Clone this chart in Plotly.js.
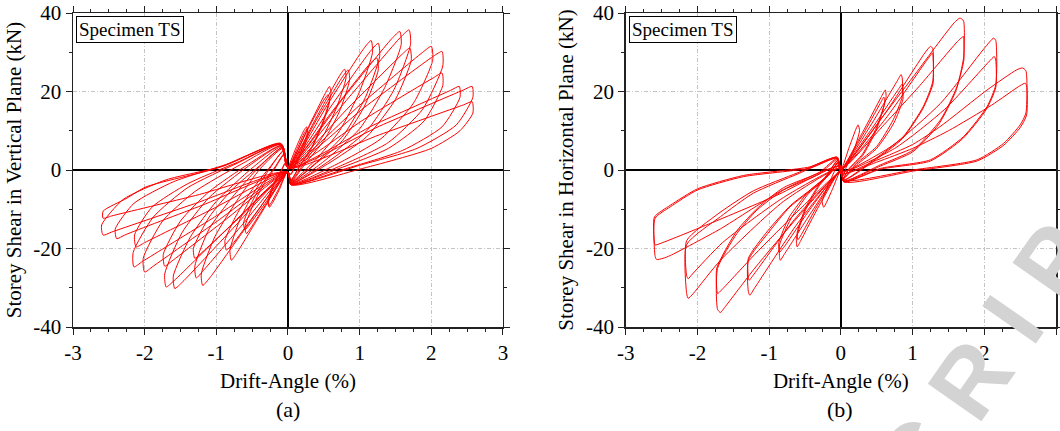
<!DOCTYPE html>
<html>
<head>
<meta charset="utf-8">
<script src="https://cdn.plot.ly/plotly-3.0.1.min.js"></script>
<style>
html,body{margin:0;padding:0;background:#fff;}
#chart{width:1060px;height:431px;}
</style>
</head>
<body>
<div id="chart"></div>
<script>
// ---------- DATA ----------
const xTickVals = [-3, -2, -1, 0, 1, 2, 3];
const xTickText = ["-3", "-2", "-1", "0", "1", "2", "3"];
const yTickVals = [-40, -20, 0, 20, 40];
const yTickText = ["-40", "-20", "0", "20", "40"];

const panelTitles = ["(a)", "(b)"];
const specimenLabel = "Specimen TS";
const xTitle = "Drift-Angle (%)";
const yTitleA = "Storey Shear in Vertical Plane (kN)";
const yTitleB = "Storey Shear in Horizontal Plane (kN)";
const watermark = "M A N U S C R I P T";

// (a) Storey shear in vertical plane — drift angle (%)
const driftA = [
  0,0.12,0.22,0.26,0.27,0.2,0.1,0.04,  -0.01,-0.12,-0.22,-0.26,-0.27,-0.2,-0.1,-0.04,
  0,0.13,0.23,0.27,0.28,0.21,0.1,0.04,  -0.01,-0.13,-0.23,-0.27,-0.28,-0.21,-0.1,-0.04,
  0,0.3,0.52,0.58,0.6,0.5,0.35,0.18,0.04,  0,-0.3,-0.52,-0.58,-0.6,-0.5,-0.35,-0.18,-0.05,
  0,0.28,0.5,0.56,0.58,0.48,0.33,0.17,0.04,  0,-0.3,-0.54,-0.6,-0.62,-0.52,-0.36,-0.18,-0.05,
  0,0.4,0.72,0.79,0.81,0.68,0.5,0.25,0.04,  0,-0.43,-0.78,-0.86,-0.88,-0.72,-0.5,-0.25,-0.06,
  0,0.42,0.77,0.84,0.86,0.72,0.5,0.25,0.04,  0,-0.4,-0.72,-0.79,-0.81,-0.68,-0.5,-0.25,-0.06,
  0,0.58,1.06,1.16,1.18,1.0,0.72,0.38,0.04,  0,-0.6,-1.08,-1.19,-1.21,-1.02,-0.72,-0.38,-0.07,
  0,0.63,1.16,1.26,1.28,1.08,0.78,0.4,0.04,  0,-0.64,-1.18,-1.28,-1.3,-1.1,-0.78,-0.4,-0.07,
  0,0.62,1.14,1.24,1.26,1.06,0.76,0.4,0.04,  0,-0.64,-1.2,-1.3,-1.32,-1.1,-0.78,-0.4,-0.07,
  0,0.78,1.45,1.56,1.58,1.35,1.0,0.5,0.04,  0,-0.8,-1.47,-1.58,-1.6,-1.36,-1.0,-0.5,-0.08,
  0,0.85,1.58,1.69,1.71,1.48,1.1,0.55,0.04,  0,-0.85,-1.59,-1.7,-1.72,-1.48,-1.1,-0.55,-0.08,
  0,0.85,1.6,1.7,1.72,1.5,1.1,0.55,0.04,  0,-0.86,-1.62,-1.72,-1.74,-1.5,-1.1,-0.55,-0.08,
  0,1.0,1.88,2.0,2.02,1.75,1.3,0.65,0.04,  0,-1.0,-1.88,-2.0,-2.02,-1.75,-1.3,-0.65,-0.09,
  0,1.07,2.03,2.15,2.16,1.88,1.4,0.7,0.04,  0,-1.07,-2.03,-2.15,-2.16,-1.88,-1.4,-0.7,-0.09,
  0,1.07,2.03,2.15,2.16,1.9,1.4,0.7,0.04,  0,-1.06,-2.0,-2.12,-2.14,-1.9,-1.4,-0.7,-0.1,
  0,1.2,2.27,2.39,2.4,2.15,1.6,0.8,0.04,  0,-1.2,-2.27,-2.39,-2.41,-2.15,-1.6,-0.8,-0.1,
  0,1.28,2.45,2.57,2.58,2.35,1.8,1.0,0.04,  0,-1.29,-2.46,-2.58,-2.6,-2.3,-1.7,-0.9,-0.1,
  0,1.28,2.45,2.57,2.58,2.4,2.0,1.0,0.04,  0,-1.29,-2.46,-2.58,-2.58,-2.25,-1.98,-1.0,-0.12,
  0
];
// (a) storey shear (kN)
const shearA = [
  0.5,6,10,11,9.5,5.5,1.5,-1,  -0.5,-5,-8.5,-9.5,-8,-4,-0.5,1.5,
  0.5,5.5,9.5,10.5,9,5,1.2,-1.2,  -0.5,-4.8,-8.2,-9.2,-7.8,-3.8,-0.3,1.8,
  0.5,11.5,19.5,21.3,19.5,13,6.5,1.5,-2.5,  -0.5,-8.5,-14.8,-16.2,-14.5,-9.5,-4,0.5,4,
  0.5,10.5,17.8,19.2,17.5,11.5,5.5,1.2,-2.6,  -0.5,-8,-14,-15.2,-13.5,-8.8,-3.5,0.8,4.2,
  0.5,13.5,24,25.7,23.5,16,9,2.5,-2.8,  -0.5,-10.5,-19,-20.4,-18,-11.5,-5,0.8,4.8,
  0.5,13.5,24,25.5,23,15,7.5,1.8,-3,  -0.5,-11.8,-21.3,-23,-20.5,-13,-6.5,0.5,5,
  0.5,17.5,31,33,30,20,10,2.5,-3,  -0.5,-15,-27.2,-29.4,-26.5,-17,-8,0.5,5.5,
  0.5,17,30.5,32.3,29,18.5,9,2,-3.2,  -0.5,-14,-25.6,-27.5,-24.5,-15,-7,0.8,5.8,
  0.5,15,27,28.5,25.5,16,7.5,1.8,-3.2,  -0.5,-11.5,-21,-22.5,-20,-12,-5,1,5.8,
  0.5,18.5,33.5,35.3,32,21,10.5,2.2,-3.3,  -0.5,-15.5,-28.5,-30.2,-27,-17,-8,0.5,6,
  0.5,18.5,34,35.7,32,20.5,10,2,-3.4,  -0.5,-15,-28.2,-29.8,-26.5,-16,-7,1,6.2,
  0.5,16,29.6,31.1,28,18,8.5,1.5,-3.4,  -0.5,-12.5,-23.2,-24.5,-21.5,-13,-5.5,1.5,6.3,
  0.5,16.5,30,31.5,28,17,8,1.2,-3.5,  -0.5,-13.2,-24.5,-26,-22.5,-13,-5.5,1.5,6.5,
  0.5,16,29,30.2,26.5,15.5,7,0.8,-3.6,  -0.5,-12.5,-23.3,-24.7,-21,-12,-4.5,1.8,6.6,
  0.5,13,23.5,24.7,21.5,12.5,5.5,0.3,-3.6,  -0.5,-10,-18.5,-19.6,-16.5,-9.5,-3.5,2,6.6,
  0.5,11.5,20.3,21.3,18.5,11,5,0.3,-3.7,  -0.5,-9,-16.5,-17.5,-15,-8.5,-3,1.8,6.7,
  0.5,11.2,20.4,21.3,18.5,11.5,5.5,1.2,-3.7,  -0.5,-8.5,-15.8,-16.6,-14,-7.5,-2.5,1,6.8,
  0.5,9,16.6,17.4,14.5,10,5.5,0.2,-3.8,  -0.5,-6.5,-11.7,-12.3,-10.5,-7.2,-4.3,0.4,6.4,
  0
];

// (b) Storey shear in horizontal plane — drift angle (%)
const driftB = [
  0,0.12,0.24,0.26,0.18,0.08,0.03,  0,-0.12,-0.24,-0.26,-0.18,-0.08,-0.03,
  0,0.3,0.56,0.62,0.63,0.5,0.3,0.12,0.03,  0,-0.3,-0.56,-0.61,-0.62,-0.5,-0.3,-0.12,-0.03,
  0,0.3,0.55,0.6,0.61,0.49,0.3,0.12,0.03,  0,-0.3,-0.55,-0.6,-0.61,-0.49,-0.3,-0.12,-0.03,
  0,0.42,0.78,0.84,0.855,0.855,0.73,0.5,0.22,0.03,  0,-0.42,-0.79,-0.845,-0.855,-0.855,-0.7,-0.45,-0.15,-0.03,
  0,0.43,0.8,0.86,0.865,0.865,0.74,0.5,0.22,0.03,  0,-0.43,-0.8,-0.86,-0.865,-0.865,-0.72,-0.45,-0.15,-0.03,
  0,0.6,1.17,1.25,1.28,1.28,1.15,0.87,0.46,0.04,  0,-0.6,-1.2,-1.27,-1.29,-1.29,-1.02,-0.71,-0.24,-0.04,
  0,0.62,1.2,1.28,1.285,1.285,1.14,0.86,0.46,0.04,  0,-0.62,-1.21,-1.28,-1.29,-1.29,-1.02,-0.7,-0.24,-0.04,
  0,0.55,1.01,1.58,1.66,1.71,1.71,1.62,1.39,1.01,0.55,0.04,  0,-0.6,-1.2,-1.62,-1.68,-1.72,-1.72,-1.45,-1.17,-0.8,-0.3,-0.04,
  0,0.6,1.1,1.64,1.71,1.715,1.715,1.6,1.36,1.0,0.55,0.04,  0,-0.6,-1.2,-1.66,-1.72,-1.73,-1.73,-1.45,-1.15,-0.8,-0.3,-0.05,
  0,0.7,1.39,2.0,2.13,2.16,2.16,2.04,1.71,1.25,0.55,0.04,  0,-0.8,-1.68,-2.06,-2.13,-2.15,-2.15,-1.68,-1.22,-0.6,-0.05,
  0,0.75,1.45,2.06,2.14,2.16,2.16,2.03,1.7,1.25,0.55,0.04,  0,-0.8,-1.65,-2.07,-2.13,-2.15,-2.15,-1.7,-1.22,-0.6,-0.05,
  0,0.5,1.0,1.38,2.04,2.45,2.53,2.58,2.58,2.5,2.27,1.9,1.0,0.04,  0,-0.8,-1.68,-2.38,-2.48,-2.57,-2.59,-2.59,-2.38,-2.0,-1.36,-0.43,-0.05,
  0,0.5,1.0,1.5,2.1,2.5,2.57,2.59,2.59,2.5,2.27,1.9,1.0,0.04,  0,-0.9,-1.82,-2.5,-2.59,-2.6,-2.6,-2.38,-2.0,-1.36,-0.43,-0.05,
  0
];
// (b) storey shear (kN)
const shearB = [
  0,6,11.5,10,5,1,-1.5,  0,-5,-9.5,-8,-4,0,1.5,
  0,9.5,18.5,20.4,18.5,11,4,0.5,-2,  0,-9,-18,-19.6,-17.5,-10.5,-4,-0.2,2,
  0,8.8,17,18.6,17,10,3.6,0.3,-2.1,  0,-8.2,-16.4,-17.8,-16,-9.5,-3.6,0,2.1,
  0,11.5,22.5,24.3,23.5,18.7,12.8,6,1.7,-2.2,  0,-11,-21.5,-23,-22.3,-19.1,-12.5,-6,-1,2.2,
  0,10.5,20.5,22,21,18,12,5.5,1.3,-2.3,  0,-10,-19.8,-21,-20.2,-18.5,-12,-5.5,-0.8,2.3,
  0,14,29.8,31.5,31,22.5,16.2,8.5,2.6,-2.5,  -0.5,-13.5,-30,-31.9,-31,-23,-16.2,-9.4,-2.6,2.5,
  0,13,28,29.8,29,22,15.5,8,2.3,-2.6,  -0.5,-12,-26.5,-28.1,-27.5,-22.5,-15.5,-9,-2.3,2.6,
  0,12.8,23.8,37.5,38.7,38,28.5,21.3,12.8,5.1,1.3,-2.8,  -0.5,-12,-25,-35,-36.3,-35.5,-25.1,-16.2,-10.2,-5.1,-1,2.8,
  0,11.5,21.5,33,34,33,28,20,11.5,4.6,1,-2.9,  -0.5,-10.5,-21.5,-30.5,-31.5,-30.5,-25,-15.5,-9.5,-4.5,-0.6,3,
  -0.5,6,17,31,33.6,33,21.7,16.2,8.5,2.6,0.4,-3,  0.5,-8,-23,-31.5,-32.7,-31.5,-19,-11.9,-5.9,-1,3,
  -0.5,5.5,15.5,27.5,28.9,28,21,15.5,8,2.3,0.2,-3,  0.5,-7,-18.5,-26.5,-27.7,-27,-18,-11,-5.3,-0.7,3.2,
  -1,2.5,6.5,11,20.4,25.5,26,25.3,14.5,11.5,6.8,2.6,0,-2.6,  1,-5,-15,-21.8,-22.5,-22.8,-22,-12.3,-9.4,-5.1,-1.7,0.5,3,
  -1,2,5.5,10,16.5,21.5,22.1,21.5,14,10.8,6.3,2.3,-0.3,-3,  1,-6.5,-13.6,-18.6,-19.1,-18.5,-12,-9,-4.8,-1.4,0.8,3.3,
  0
];

// ---------- CHART ----------
const serif = "Liberation Serif";
const sans = "Liberation Sans";
const lineStyle = {color: '#ff0000', width: 1, shape: 'spline', smoothing: 0.6};

const traces = [
  {x: driftA, y: shearA, xaxis: 'x', yaxis: 'y', type: 'scatter', mode: 'lines', line: lineStyle, hoverinfo: 'skip'},
  {x: driftB, y: shearB, xaxis: 'x2', yaxis: 'y2', type: 'scatter', mode: 'lines', line: lineStyle, hoverinfo: 'skip'}
];

function xAxis(domain, anchor) {
  return {
    domain: domain, anchor: anchor, range: [-3, 3],
    tickmode: 'array', tickvals: xTickVals, ticktext: xTickText,
    ticks: 'outside', ticklen: 6, tickwidth: 1, tickcolor: '#222',
    minor: {tickmode: 'linear', tick0: -3, dtick: 0.25, ticks: 'outside', ticklen: 3, tickcolor: '#222', showgrid: false},
    showline: true, linecolor: '#222', linewidth: 1.5, mirror: 'ticks',
    showgrid: true, gridcolor: '#c4c4c4', griddash: '4px,2px,1px,2px', gridwidth: 1,
    zeroline: true, zerolinecolor: '#000', zerolinewidth: 1.5,
    tickfont: {family: serif, size: 21, color: '#000'},
    title: {text: xTitle, font: {family: serif, size: 21, color: '#000'}, standoff: 9},
    automargin: false, fixedrange: true
  };
}
function yAxis(anchor, title) {
  return {
    domain: [0, 1], anchor: anchor, range: [-40, 40],
    tickmode: 'array', tickvals: yTickVals, ticktext: yTickText,
    ticks: 'outside', ticklen: 6, tickwidth: 1, tickcolor: '#222',
    minor: {tickmode: 'linear', tick0: -40, dtick: 10, ticks: 'outside', ticklen: 3, tickcolor: '#222', showgrid: false},
    showline: true, linecolor: '#222', linewidth: 1.5, mirror: 'ticks',
    showgrid: true, gridcolor: '#c4c4c4', griddash: '4px,2px,1px,2px', gridwidth: 1,
    zeroline: true, zerolinecolor: '#000', zerolinewidth: 1.5,
    tickfont: {family: serif, size: 21, color: '#000'},
    title: {text: title, font: {family: serif, size: 21, color: '#000'}, standoff: 6},
    automargin: false, fixedrange: true
  };
}

const layout = {
  width: 1060, height: 431,
  margin: {l: 73, r: 4, t: 13, b: 104},
  paper_bgcolor: '#fff', plot_bgcolor: '#fff',
  showlegend: false,
  font: {family: serif, size: 21, color: '#000'},
  xaxis: xAxis([0, 0.4374], 'y'),
  yaxis: yAxis('x', yTitleA),
  xaxis2: xAxis([0.5623, 1], 'y2'),
  yaxis2: yAxis('x2', yTitleB),
  annotations: [
    {xref: 'x domain', yref: 'y domain', x: 0.008, y: 0.991, xanchor: 'left', yanchor: 'top',
     text: specimenLabel, showarrow: false, font: {family: serif, size: 19, color: '#000'},
     bordercolor: '#000', borderwidth: 1, borderpad: 2, bgcolor: '#fff'},
    {xref: 'x2 domain', yref: 'y2 domain', x: 0.008, y: 0.991, xanchor: 'left', yanchor: 'top',
     text: specimenLabel, showarrow: false, font: {family: serif, size: 19, color: '#000'},
     bordercolor: '#000', borderwidth: 1, borderpad: 2, bgcolor: '#fff'},
    {xref: 'paper', yref: 'paper', x: 0.2187, y: -0.264, xanchor: 'center', yanchor: 'middle',
     text: panelTitles[0], showarrow: false, font: {family: serif, size: 22, color: '#000'}},
    {xref: 'paper', yref: 'paper', x: 0.7803, y: -0.264, xanchor: 'center', yanchor: 'middle',
     text: panelTitles[1], showarrow: false, font: {family: serif, size: 22, color: '#000'}},
    {xref: 'paper', yref: 'paper', x: 0.8128, y: -0.615, xanchor: 'center', yanchor: 'middle',
     text: '<b>' + watermark + '</b>', showarrow: false, textangle: -55,
     font: {family: sans, size: 95, color: '#d3d3d3'}}
  ]
};

Plotly.newPlot('chart', traces, layout, {displayModeBar: false, staticPlot: true});
</script>
</body>
</html>
